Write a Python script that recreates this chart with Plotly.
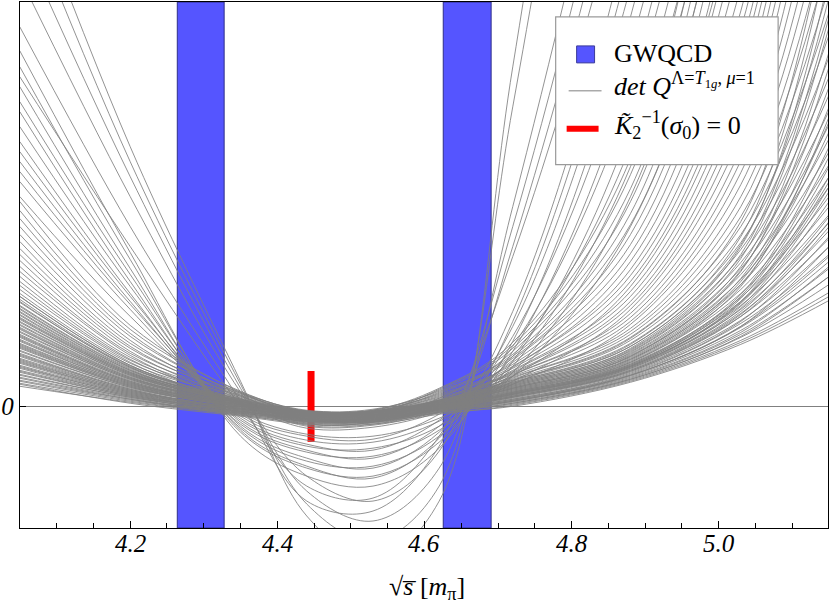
import plotly.graph_objects as go

knot_x = [4.05, 4.20, 4.35, 4.44, 4.53, 4.62, 4.72, 4.88, 5.03, 5.15]

# dense bundle of curves (values at knot_x)
bundle_curves = [
    [0.20, 0.04, -0.09, -0.17, -0.17, -0.06, 0.03, 0.27, 0.69, 1.22],
    [0.23, 0.05, -0.08, -0.15, -0.16, -0.07, 0.00, 0.24, 0.62, 1.06],
    [0.26, 0.07, -0.07, -0.12, -0.12, -0.03, 0.07, 0.32, 0.83, 1.52],
    [0.29, 0.08, -0.08, -0.15, -0.15, -0.06, 0.02, 0.26, 0.66, 1.14],
    [0.31, 0.09, -0.06, -0.11, -0.12, -0.01, 0.12, 0.39, 1.01, 1.92],
    [0.34, 0.10, -0.05, -0.13, -0.13, -0.04, 0.05, 0.30, 0.76, 1.38],
    [0.36, 0.11, -0.05, -0.10, -0.11, -0.02, 0.09, 0.35, 0.90, 1.68],
    [0.39, 0.12, -0.06, -0.15, -0.14, -0.05, 0.04, 0.28, 0.72, 1.30],
    [0.41, 0.13, -0.03, -0.08, -0.08, 0.01, 0.15, 0.44, 1.13, 2.20],
    [0.44, 0.14, -0.04, -0.14, -0.15, -0.04, 0.06, 0.31, 0.79, 1.45],
    [0.46, 0.15, -0.02, -0.09, -0.10, 0.02, 0.20, 0.53, 1.38, 2.82],
    [0.48, 0.16, -0.03, -0.13, -0.14, -0.03, 0.08, 0.34, 0.86, 1.60],
    [0.51, 0.17, -0.02, -0.10, -0.10, -0.01, 0.11, 0.38, 0.97, 1.84],
    [0.53, 0.18, 0.00, -0.06, -0.06, 0.05, 0.27, 0.72, 1.90, 4.20],
    [0.55, 0.19, -0.01, -0.12, -0.13, -0.02, 0.10, 0.36, 0.93, 1.76],
    [0.58, 0.20, 0.00, -0.10, -0.11, 0.00, 0.14, 0.42, 1.09, 2.10],
    [0.60, 0.21, 0.01, -0.07, -0.07, 0.02, 0.18, 0.49, 1.27, 2.55],
    [0.62, 0.22, 0.01, -0.09, -0.09, 0.00, 0.13, 0.41, 1.05, 2.00],
    [0.65, 0.23, 0.02, -0.08, -0.08, 0.04, 0.23, 0.60, 1.57, 3.30],
    [0.67, 0.24, 0.01, -0.10, -0.10, 0.01, 0.16, 0.45, 1.17, 2.30],
    [0.70, 0.25, 0.02, -0.08, -0.08, 0.06, 0.30, 0.85, 2.34, 5.40],
    [0.72, 0.26, 0.03, -0.09, -0.09, 0.02, 0.17, 0.47, 1.22, 2.42],
    [0.74, 0.27, 0.03, -0.07, -0.07, 0.03, 0.21, 0.55, 1.44, 2.96],
    [0.77, 0.28, 0.04, -0.08, -0.08, 0.03, 0.19, 0.51, 1.32, 2.68],
    [0.79, 0.29, 0.04, -0.07, -0.07, 0.07, 0.33, 1.01, 2.86, 7.00],
    [0.82, 0.30, 0.05, -0.06, -0.06, 0.04, 0.22, 0.57, 1.50, 3.12],
    [0.84, 0.31, 0.05, -0.07, -0.07, 0.05, 0.25, 0.66, 1.72, 3.72],
    [0.87, 0.32, 0.06, -0.06, -0.06, 0.05, 0.24, 0.63, 1.64, 3.50],
    [0.89, 0.33, 0.06, -0.05, -0.05, 0.06, 0.29, 0.78, 2.10, 4.80],
    [0.92, 0.34, 0.07, -0.05, -0.05, 0.06, 0.26, 0.69, 1.80, 3.95],
    [0.95, 0.35, 0.05, -0.14, -0.12, 0.04, 0.36, 1.15, 3.30, 8.20],
    [0.98, 0.36, 0.03, -0.18, -0.16, -0.02, 0.28, 0.75, 2.00, 4.50],
    [1.01, 0.38, 0.07, -0.07, -0.06, 0.08, 0.32, 0.93, 2.58, 6.20],
    [1.04, 0.39, 0.02, -0.20, -0.19, -0.05, 0.22, 0.82, 2.22, 5.10],
    [1.07, 0.40, 0.08, -0.05, -0.04, 0.12, 0.42, 1.45, 4.20, 10.5],
    [1.10, 0.41, 0.04, -0.16, -0.15, -0.02, 0.31, 0.89, 2.46, 5.80],
    [1.13, 0.43, 0.09, -0.06, -0.05, 0.09, 0.34, 1.05, 3.00, 7.40],
    [1.17, 0.44, 0.01, -0.22, -0.21, -0.06, 0.25, 0.97, 2.72, 6.60],
    [1.21, 0.46, 0.10, -0.06, -0.06, 0.10, 0.38, 1.25, 3.60, 9.00],
    [1.25, 0.47, 0.06, -0.13, -0.12, 0.01, 0.35, 1.10, 3.15, 7.80],
    [1.30, 0.49, 0.11, -0.05, -0.05, 0.13, 0.48, 1.72, 5.10, 12.0],
    [1.35, 0.51, 0.03, -0.19, -0.18, -0.03, 0.30, 1.20, 3.45, 8.60],
    [1.40, 0.53, 0.12, -0.06, -0.05, 0.11, 0.40, 1.37, 3.96, 10.0],
    [1.46, 0.55, 0.07, -0.15, -0.14, 0.00, 0.39, 1.31, 3.78, 9.50],
    [1.52, 0.58, 0.13, -0.04, -0.03, 0.15, 0.52, 1.93, 5.80, 13.0],
    [1.58, 0.60, 0.10, -0.10, -0.09, 0.06, 0.44, 1.53, 4.50, 11.0],
    [1.65, 0.63, 0.14, -0.05, -0.04, 0.16, 0.58, 2.18, 6.60, 14.0],
    [1.72, 0.66, 0.08, -0.17, -0.16, 0.00, 0.46, 1.62, 4.80, 11.5],
    [1.80, 0.70, 0.13, -0.07, -0.06, 0.14, 0.50, 1.82, 5.40, 12.5],
    [1.88, 0.73, 0.11, -0.12, -0.11, 0.08, 0.55, 2.05, 6.20, 13.5],
    [1.96, 0.77, 0.15, -0.05, -0.04, 0.18, 0.64, 2.48, 7.50, 15.0],
    [2.05, 0.81, 0.14, -0.08, -0.07, 0.17, 0.61, 2.32, 7.00, 14.5],
]

# more of the bundle, the part that stays low on the right
bundle_low_curves = [
    [0.22, 0.03, -0.10, -0.18, -0.18, -0.08, 0.01, 0.25, 0.64, 1.10],
    [0.25, 0.06, -0.07, -0.13, -0.13, -0.04, 0.05, 0.31, 0.80, 1.60],
    [0.28, 0.07, -0.09, -0.16, -0.16, -0.06, 0.03, 0.27, 0.70, 1.30],
    [0.32, 0.09, -0.06, -0.11, -0.10, 0.00, 0.12, 0.40, 1.05, 2.30],
    [0.35, 0.10, -0.07, -0.14, -0.14, -0.04, 0.06, 0.31, 0.80, 1.50],
    [0.38, 0.11, -0.05, -0.12, -0.12, -0.02, 0.10, 0.37, 0.95, 1.90],
    [0.40, 0.12, -0.04, -0.09, -0.09, 0.00, 0.13, 0.42, 1.10, 2.50],
    [0.43, 0.13, -0.05, -0.13, -0.13, -0.03, 0.07, 0.33, 0.85, 1.70],
    [0.45, 0.14, -0.03, -0.10, -0.10, 0.00, 0.14, 0.44, 1.20, 2.90],
    [0.47, 0.15, -0.04, -0.15, -0.15, -0.05, 0.05, 0.29, 0.74, 1.40],
    [0.50, 0.16, -0.02, -0.08, -0.08, 0.02, 0.18, 0.50, 1.35, 3.40],
    [0.52, 0.17, -0.03, -0.12, -0.12, -0.02, 0.10, 0.38, 0.98, 2.05],
    [0.56, 0.19, -0.01, -0.09, -0.09, 0.01, 0.15, 0.46, 1.22, 2.75],
    [0.59, 0.20, -0.02, -0.14, -0.14, -0.03, 0.09, 0.36, 0.92, 1.85],
    [0.61, 0.21, 0.00, -0.07, -0.07, 0.03, 0.20, 0.54, 1.48, 3.80],
    [0.63, 0.22, -0.01, -0.11, -0.11, -0.01, 0.12, 0.40, 1.04, 2.25],
    [0.66, 0.23, 0.01, -0.06, -0.06, 0.04, 0.22, 0.58, 1.60, 4.30],
    [0.69, 0.24, 0.00, -0.12, -0.12, -0.02, 0.11, 0.39, 1.00, 2.15],
    [0.71, 0.25, 0.02, -0.08, -0.08, 0.02, 0.17, 0.48, 1.28, 3.00],
    [0.75, 0.27, 0.01, -0.13, -0.13, -0.03, 0.09, 0.35, 0.90, 1.80],
    [0.78, 0.28, 0.03, -0.07, -0.07, 0.03, 0.19, 0.52, 1.40, 3.55],
    [0.81, 0.29, 0.02, -0.10, -0.10, 0.00, 0.14, 0.43, 1.12, 2.60],
    [0.85, 0.31, 0.04, -0.06, -0.06, 0.05, 0.24, 0.62, 1.70, 4.60],
    [0.88, 0.32, 0.03, -0.11, -0.11, -0.01, 0.13, 0.41, 1.08, 2.40],
    [0.91, 0.33, 0.05, -0.07, -0.07, 0.04, 0.21, 0.56, 1.52, 3.90],
    [0.94, 0.34, 0.03, -0.12, -0.12, -0.02, 0.12, 0.40, 1.03, 2.20],
    [0.97, 0.36, 0.06, -0.06, -0.06, 0.05, 0.23, 0.60, 1.62, 4.10],
    [1.00, 0.37, 0.04, -0.10, -0.10, 0.01, 0.16, 0.47, 1.25, 2.85],
    [1.05, 0.39, 0.07, -0.05, -0.05, 0.06, 0.26, 0.68, 1.85, 4.90],
    [1.10, 0.41, 0.05, -0.09, -0.09, 0.02, 0.18, 0.50, 1.36, 3.20],
]

# curves with deeper minimum
wide_curves = [
    [2.10, 0.90, -0.06, -0.28, -0.30, -0.12, 0.30, 1.80, 5.2, 12.0],
    [2.25, 0.97, -0.10, -0.34, -0.36, -0.15, 0.34, 2.10, 6.0, 13.0],
    [2.35, 1.02, -0.08, -0.30, -0.33, -0.08, 0.50, 2.60, 7.0, 14.0],
    [2.45, 1.05, -0.14, -0.40, -0.42, -0.20, 0.40, 2.40, 6.6, 13.5],
    [2.55, 1.10, -0.12, -0.38, -0.44, -0.14, 0.60, 3.10, 8.0, 15.0],
    [2.65, 1.13, -0.18, -0.46, -0.50, -0.24, 0.45, 2.80, 7.6, 14.5],
    [2.80, 1.20, -0.16, -0.44, -0.52, -0.20, 0.70, 3.60, 9.0, 16.0],
    [2.95, 1.25, -0.22, -0.55, -0.60, -0.30, 0.55, 3.30, 8.6, 15.5],
    [3.05, 1.32, -0.20, -0.52, -0.62, -0.26, 0.80, 4.20, 10.0, 17.0],
    [3.20, 1.38, -0.26, -0.62, -0.70, -0.36, 0.65, 3.90, 9.6, 16.5],
    [3.40, 1.47, -0.24, -0.60, -0.72, -0.32, 0.95, 4.80, 11.0, 18.0],
    [3.56, 1.54, -0.30, -0.70, -0.80, -0.42, 0.85, 4.50, 10.5, 17.5],
]

# steep curves reaching far below zero
steep_curves = [
    [4.30, 2.10, 0.14, -0.70, -0.95, -0.45, 1.6, 6.0, 12.0, 18.0],
    [4.70, 2.30, 0.18, -0.85, -1.15, -0.62, 2.0, 7.0, 13.0, 19.0],
    [5.10, 2.45, 0.22, -0.98, -1.35, -0.80, 3.0, 10.0, 17.0, 23.0],
    [5.40, 2.60, 0.25, -1.10, -1.55, -0.95, 3.4, 11.0, 18.0, 24.0],
    [3.80, 1.80, 0.05, -0.95, -1.05, -0.40, 1.8, 6.5, 12.5, 18.5],
    [3.30, 1.60, 0.00, -0.80, -0.92, -0.30, 1.5, 5.5, 11.0, 17.0],
]

# GWQCD energy levels (band edges)
band_lo = [4.264, 4.6255]
band_hi = [4.3277, 4.6906]

# K2^-1(sigma0) = 0 marker
k_root_x = 4.4458
k_root_span = [-0.357, 0.353]

x_ticks = [4.2, 4.4, 4.6, 4.8, 5.0]
x_tick_text = ["4.2", "4.4", "4.6", "4.8", "5.0"]
x_minor = [4.1, 4.15, 4.25, 4.3, 4.35, 4.45, 4.5, 4.55, 4.65, 4.7, 4.75,
           4.85, 4.9, 4.95, 5.05, 5.1]

SERIF = "Liberation Serif, Times New Roman, serif"
GRAY = "#808080"
BLUE = "#5555ff"

fig = go.Figure()

fig.add_trace(go.Scatter(
    x=[k_root_x, k_root_x], y=k_root_span, mode="lines",
    line=dict(color="#ff0000", width=7), hoverinfo="skip", showlegend=False,
))

for row in bundle_curves + bundle_low_curves + wide_curves + steep_curves:
    fig.add_trace(go.Scatter(
        x=knot_x, y=row, mode="lines",
        line=dict(color=GRAY, width=0.85, shape="spline", smoothing=1.0),
        hoverinfo="skip", showlegend=False,
    ))

for lo, hi in zip(band_lo, band_hi):
    fig.add_shape(type="rect", xref="x", yref="paper", x0=lo, x1=hi, y0=0, y1=1,
                  fillcolor=BLUE, line=dict(color="#2e2e8a", width=1), layer="below")

# plot area in pixels: x 18..828, y 1..528
def px(x):
    return (x - 18) / 810

def py(y):
    return (528 - y) / 527

# hand made legend
fig.add_shape(type="rect", xref="paper", yref="paper", x0=px(555), x1=px(778),
              y0=py(164), y1=py(16), fillcolor="white",
              line=dict(color="#9a9a9a", width=1.2), layer="above")
fig.add_shape(type="rect", xref="paper", yref="paper", x0=px(576), x1=px(594),
              y0=py(62), y1=py(45), fillcolor=BLUE,
              line=dict(color="#3b3b9a", width=1), layer="above")
fig.add_shape(type="line", xref="paper", yref="paper", x0=px(568), x1=px(601),
              y0=py(90), y1=py(90), line=dict(color=GRAY, width=1), layer="above")
fig.add_shape(type="line", xref="paper", yref="paper", x0=px(566), x1=px(598),
              y0=py(128), y1=py(128), line=dict(color="#ff0000", width=6), layer="above")

legend_texts = [
    ("GWQCD", 53),
    ("<i>det Q</i><sup>Λ=<i>T</i><sub>1<i>g</i></sub>, <i>μ</i>=1</sup>", 84),
    ("<i>K̃</i><sub>2</sub><sup>−1</sup>(<i>σ</i><sub>0</sub>) = 0", 124),
]
for txt, ypix in legend_texts:
    fig.add_annotation(text=txt, xref="paper", yref="paper", x=px(611), y=py(ypix),
                       xanchor="left", yanchor="middle", showarrow=False,
                       font=dict(family=SERIF, size=26, color="black"))

# x tick labels, italic serif just under the axis
for tv, tt in zip(x_ticks, x_tick_text):
    fig.add_annotation(text="<i>" + tt + "</i>", xref="x", yref="paper",
                       x=tv, y=py(544), xanchor="center", yanchor="middle",
                       showarrow=False, font=dict(family=SERIF, size=25, color="black"))

# x axis title
fig.add_annotation(text="√<i>s̅</i> [<i>m</i><sub>π</sub>]", xref="paper", yref="paper",
                   x=px(426), y=py(588), xanchor="center", yanchor="middle",
                   showarrow=False, font=dict(family=SERIF, size=26, color="black"))

fig.update_layout(
    width=830,
    height=609,
    margin=dict(l=18, r=2, t=1, b=81),
    paper_bgcolor="white",
    plot_bgcolor="white",
    font=dict(family=SERIF, color="black"),
    showlegend=False,
    xaxis=dict(
        range=[4.0502, 5.1485],
        showgrid=False, zeroline=False,
        showline=True, linecolor="black", linewidth=1.4, mirror=True,
        ticks="inside", ticklen=7, tickwidth=1, tickcolor="black",
        tickvals=x_ticks, showticklabels=False,
        minor=dict(tickvals=x_minor, ticks="inside", ticklen=5, tickcolor="black"),
    ),
    yaxis=dict(
        range=[-1.22, 4.05],
        showgrid=False,
        zeroline=True, zerolinecolor=GRAY, zerolinewidth=1,
        showline=True, linecolor="black", linewidth=1.4, mirror=True,
        ticks="inside", ticklen=6, tickwidth=1, tickcolor="black",
        tickvals=[0], ticktext=["0"],
        tickfont=dict(family=SERIF, size=25, color="black", style="italic"),
    ),
)

# the page body has a default 8px margin; drop it so the figure fills the window
fig.write_html("out.html", config={"displayModeBar": False},
               post_script="document.body.style.margin='0';")
